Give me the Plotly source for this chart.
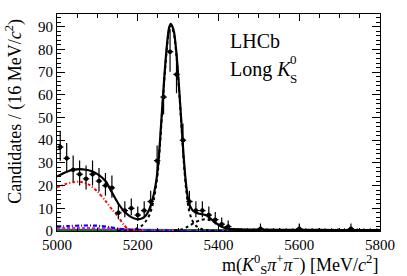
import plotly.graph_objects as go

# ---------------- data ----------------
bin_centers = list(range(5008, 5800, 16))  # 16 MeV bins, 5000-5800
counts = [37, 32, 27, 25, 23, 25, 22, 20, 19, 8, 9, 10, 7, 9, 13, 31, 59, 79, 69, 40,
          13, 9, 9, 7, 5, 3, 2, 0, 0, 0, 0, 1, 0, 0, 0, 0, 0, 1, 0, 0,
          0, 0, 0, 0, 0, 1, 0, 0, 0, 0]
err_hi = [7.14, 6.72, 6.26, 6.07, 5.87, 6.07, 5.76, 5.55, 5.44, 3.95, 4.11, 4.27, 3.77, 4.11,
          4.70, 6.63, 8.73, 9.94, 9.36, 7.38, 4.70, 4.11, 4.11, 3.77, 3.38, 2.92, 2.64,
          1.15, 1.15, 1.15, 1.15, 2.30, 1.15, 1.15, 1.15, 1.15, 1.15, 2.30,
          1.15, 1.15, 1.15, 1.15, 1.15, 1.15, 1.15, 2.30, 1.15, 1.15, 1.15, 1.15]
err_lo = [6.06, 5.63, 5.16, 4.97, 4.76, 4.97, 4.65, 4.43, 4.32, 2.77, 2.94, 3.11, 2.58, 2.94,
          3.56, 5.54, 7.66, 8.87, 8.29, 6.30, 3.56, 2.94, 2.94, 2.58, 2.16, 1.63, 1.29,
          0, 0, 0, 0, 0.83, 0, 0, 0, 0, 0, 0.83,
          0, 0, 0, 0, 0, 0, 0, 0.83, 0, 0, 0, 0]

# total fit (solid black)
total_x = [5000, 5020, 5040, 5056, 5072, 5088, 5104, 5120, 5136, 5152, 5168, 5184, 5196, 5206,
           5216, 5226, 5236, 5244, 5250, 5256, 5262, 5268, 5274, 5278, 5282, 5286, 5290, 5296,
           5302, 5308, 5314, 5320, 5326, 5334, 5344, 5356, 5368, 5378, 5390, 5402, 5414, 5428,
           5450, 5500, 5600, 5700, 5800]
total_y = [24.0, 25.8, 27.0, 27.3, 27.0, 26.2, 24.6, 22.0, 17.0, 12.0, 8.4, 6.1, 5.3, 5.3,
           6.1, 8.5, 13.5, 20.0, 28.0, 42.0, 58.0, 73.0, 85.0, 89.8, 91.3, 90.0, 87.5, 78.0,
           64.0, 48.0, 32.0, 20.0, 13.0, 9.5, 8.0, 7.5, 7.0, 5.8, 4.0, 2.4, 1.4, 0.9,
           0.7, 0.6, 0.5, 0.45, 0.4]

# B0 signal (black dotted)
b0_x = [5150, 5170, 5185, 5200, 5210, 5220, 5230, 5240, 5250, 5256, 5262, 5268, 5274, 5278,
        5282, 5286, 5290, 5296, 5302, 5308, 5314, 5320, 5326, 5334, 5344, 5356, 5370, 5390, 5420]
b0_y = [0.0, 0.2, 0.5, 1.2, 2.3, 4.3, 7.5, 14.0, 26.5, 40.5, 57.0, 72.0, 84.0, 89.0,
        90.5, 89.0, 86.5, 77.0, 63.0, 47.0, 30.5, 18.0, 10.0, 5.0, 2.3, 1.0, 0.4, 0.1, 0.0]

# Bs signal (black dotted)
bs_x = [5290, 5310, 5325, 5340, 5355, 5367, 5380, 5395, 5410, 5425, 5440, 5460]
bs_y = [0.2, 0.8, 2.0, 3.6, 4.8, 5.2, 4.7, 3.4, 2.0, 0.9, 0.4, 0.1]

# partially reconstructed background (red dash-dot)
red_x = [5000, 5020, 5040, 5060, 5080, 5100, 5120, 5137, 5150, 5165, 5177, 5190, 5210]
red_y = [19.2, 20.6, 21.5, 21.6, 20.3, 17.4, 13.3, 9.3, 6.7, 2.8, 0.8, 0.1, 0.0]

# blue dash-dot background
blue_x = [5000, 5030, 5060, 5090, 5110, 5130, 5150, 5170, 5200, 5250, 5300, 5400, 5800]
blue_y = [2.0, 2.2, 2.4, 2.4, 2.2, 1.7, 1.1, 0.7, 0.4, 0.2, 0.1, 0.05, 0.0]

# magenta dashed background
mag_x = [5000, 5050, 5100, 5150, 5200, 5250, 5300, 5400, 5800]
mag_y = [1.3, 1.3, 1.2, 0.9, 0.5, 0.3, 0.15, 0.05, 0.0]

# combinatorial (green solid)
comb_x = [5000, 5200, 5400, 5600, 5800]
comb_y = [0.45, 0.4, 0.35, 0.3, 0.25]

x_ticks = [5000, 5200, 5400, 5600, 5800]
y_ticks = [0, 10, 20, 30, 40, 50, 60, 70, 80, 90]

FONT = "'Liberation Serif', 'Times New Roman', Times, serif"

fig = go.Figure()

def curve(x, y, color, dash, width, smoothing=0.8):
    fig.add_trace(go.Scatter(x=x, y=y, mode="lines",
                             line=dict(color=color, dash=dash, width=width,
                                       shape="spline", smoothing=smoothing),
                             hoverinfo="skip", showlegend=False))

curve(comb_x, comb_y, "#008000", "solid", 2.5)
curve(mag_x, mag_y, "#ff00ff", "3px,2px", 2.2)
curve(blue_x, blue_y, "#0000ff", "4px,2px,1px,2px", 2.2)
curve(red_x, red_y, "#ff0000", "3px,2px,1px,2px", 2)
curve(bs_x, bs_y, "black", "dot", 2)
curve(b0_x, b0_y, "black", "dot", 2)
curve(total_x, total_y, "black", "solid", 2.2, 0.7)

fig.add_trace(go.Scatter(
    x=bin_centers, y=counts, mode="markers",
    marker=dict(color="black", size=4.5, symbol="circle"),
    error_y=dict(type="data", symmetric=False, array=err_hi, arrayminus=err_lo,
                 color="black", thickness=1.2, width=0),
    error_x=dict(type="constant", value=8, color="black", thickness=1.2, width=0),
    showlegend=False, hoverinfo="skip"))

axis_common = dict(showline=True, linecolor="black", linewidth=1, mirror="ticks",
                   ticks="inside", tickcolor="black", showgrid=False, zeroline=False,
                   tickfont=dict(family=FONT, size=15, color="black"))

fig.update_xaxes(range=[5000, 5800], tickvals=x_ticks, ticklen=7,
                 minor=dict(dtick=50, ticklen=3.5, ticks="inside", tickcolor="black"),
                 **axis_common)
fig.update_yaxes(range=[0, 95.6], tickvals=y_ticks, ticklen=8,
                 minor=dict(dtick=2, ticklen=4, ticks="inside", tickcolor="black"),
                 **axis_common)

annotations = [
    dict(text="Candidates / (16 MeV/<i>c</i><sup>2</sup>)", textangle=-90,
         xref="paper", yref="paper", x=-0.133, y=0.985, xanchor="center", yanchor="top",
         showarrow=False, font=dict(family=FONT, size=18, color="black")),
    dict(text="m(<i>K</i><sup>0</sup><sub>S</sub><i>π</i><sup>+</sup><i>π</i><sup>−</sup>) [MeV/<i>c</i><sup>2</sup>]",
         xref="paper", yref="paper", x=1.0, y=-0.156, xanchor="right", yanchor="middle",
         showarrow=False, font=dict(family=FONT, size=18, color="black")),
    dict(text="LHCb", xref="paper", yref="paper", x=0.53, y=0.876,
         xanchor="left", yanchor="middle", showarrow=False,
         font=dict(family=FONT, size=20, color="black")),
    dict(text="Long <i>K</i>", xref="paper", yref="paper", x=0.53, y=0.742,
         xanchor="left", yanchor="middle", showarrow=False,
         font=dict(family=FONT, size=20, color="black")),
    dict(text="0", xref="paper", yref="paper", x=0.715, y=0.79,
         xanchor="left", yanchor="middle", showarrow=False,
         font=dict(family=FONT, size=13, color="black")),
    dict(text="S", xref="paper", yref="paper", x=0.715, y=0.705,
         xanchor="left", yanchor="middle", showarrow=False,
         font=dict(family=FONT, size=13, color="black")),
]

fig.update_layout(width=407, height=276, margin=dict(l=57, r=20, t=14, b=45),
                  plot_bgcolor="white", paper_bgcolor="white",
                  font=dict(family=FONT),
                  annotations=annotations, showlegend=False)

fig.write_html("out.html", config={"displayModeBar": False},
               post_script="document.body.style.margin='0';document.body.style.padding='0';")
